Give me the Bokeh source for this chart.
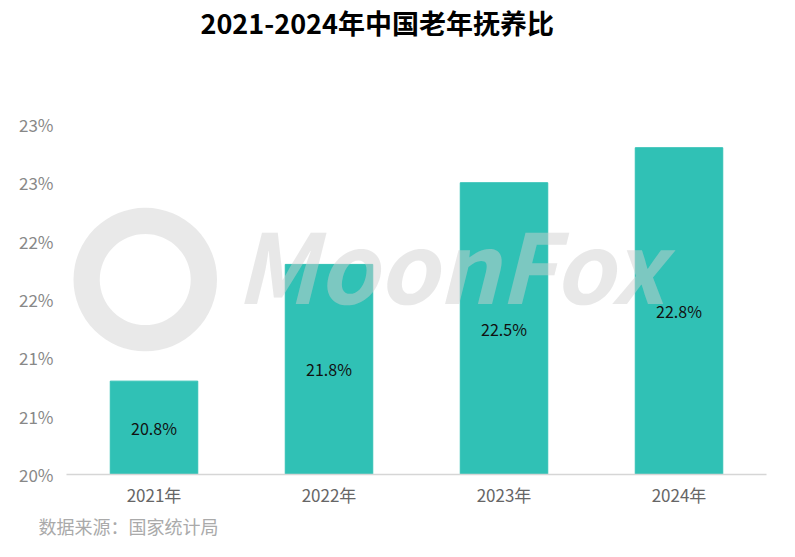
from bokeh.plotting import figure
from bokeh.models import ColumnDataSource, FixedTicker, LabelSet, Label, Title, Range1d
from bokeh.core.properties import value
from bokeh.embed import file_html
from bokeh.resources import INLINE

# ---- data ----
years = ["2021年", "2022年", "2023年", "2024年"]
ratios = [20.8, 21.8, 22.5, 22.8]
ratio_labels = ["20.8%", "21.8%", "22.5%", "22.8%"]
tick_values = [20.0, 20.5, 21.0, 21.5, 22.0, 22.5, 23.0]
tick_labels = ["20%", "21%", "21%", "22%", "22%", "23%", "23%"]
title_text = "2021-2024年中国老年抚养比"
source_text = "数据来源：国家统计局"
watermark_text = "MoonFox"

base = tick_values[0]
FONT = "Noto Sans CJK SC"

src = ColumnDataSource(dict(
    x=years,
    top=ratios,
    mid=[(base + r) / 2 for r in ratios],
    label=ratio_labels,
))

p = figure(
    x_range=years,
    y_range=Range1d(base, 23.71),
    width=779, height=541,
    output_backend="svg", toolbar_location=None,
    min_border_left=66, min_border_right=13,
    min_border_top=31, min_border_bottom=67,
)
p.x_range.range_padding = 0.0

p.vbar(x="x", top="top", bottom=base, width=0.5, source=src,
       fill_color="#30C1B5", line_color="#30C1B5")

# watermark (logo ring + word)
p.annulus(x=[0.45], y=[21.67], inner_radius=0.26, outer_radius=0.41,
          fill_color="#d4d4d4", fill_alpha=0.5, line_color=None)
wm = Label(x=169, y=21.82, x_units="screen", y_units="data", text=watermark_text,
           text_font=FONT, text_font_size="96px", text_font_style="bold italic",
           text_color="#cfcfcf", text_alpha=0.48, text_baseline="middle")
p.add_layout(wm)

p.add_layout(LabelSet(x="x", y="mid", text="label", source=src,
                      text_align="center", text_baseline="middle",
                      text_font=value(FONT), text_font_size="16px",
                      text_color="#111111"))

# title
p.title.visible = False
p.add_layout(Title(text=title_text, align="left", offset=134,
                   text_font=FONT, text_font_size="27px",
                   text_font_style="bold", text_color="#000000",
                   standoff=0), "above")

# source note (below the x axis)
p.add_layout(Title(text=source_text, align="left", offset=-28,
                   text_font=FONT, text_font_size="18px",
                   text_font_style="normal", text_color="#aaaaaa",
                   standoff=3), "below")

# axes
p.xgrid.visible = False
p.ygrid.visible = False
p.outline_line_color = None

p.yaxis.ticker = FixedTicker(ticks=tick_values)
p.yaxis.major_label_overrides = {v: l for v, l in zip(tick_values, tick_labels)}
p.yaxis.axis_line_color = None
p.yaxis.major_tick_line_color = None
p.yaxis.minor_tick_line_color = None
p.yaxis.major_label_text_font = FONT
p.yaxis.major_label_text_font_size = "17px"
p.yaxis.major_label_text_color = "#888888"
p.yaxis.major_label_standoff = 7

p.xaxis.axis_line_color = "#d6d6d6"
p.xaxis.axis_line_width = 1.5
p.xaxis.major_tick_line_color = None
p.xaxis.minor_tick_line_color = None
p.xaxis.major_label_text_font = FONT
p.xaxis.major_label_text_font_size = "17px"
p.xaxis.major_label_text_color = "#666666"
p.xaxis.major_label_standoff = 1

open("out.html", "w").write(file_html(p, INLINE))
